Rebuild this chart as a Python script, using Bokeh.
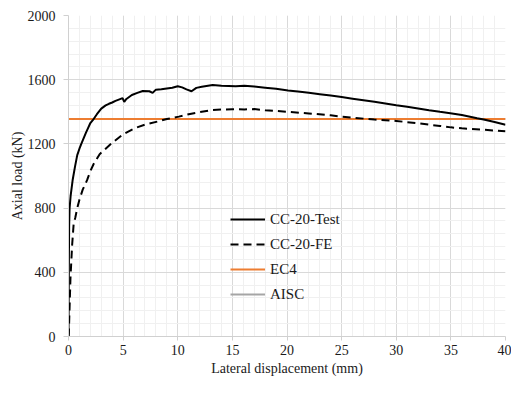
from bokeh.plotting import figure
from bokeh.models import Range1d, FixedTicker, Legend, LegendItem
from bokeh.embed import file_html
from bokeh.resources import INLINE

# ---- data ----
test_x = [0, 0.02, 0.04, 0.06, 0.1, 0.2, 0.38, 0.6, 0.8, 1.0, 1.2, 1.4, 1.6, 1.8, 2.0,
          2.3, 2.6, 3.0, 3.4, 3.7, 4.0, 4.3, 4.6, 4.95, 5.1, 5.3, 5.8, 6.3, 6.8, 7.4,
          7.7, 8.0, 8.5, 9.0, 9.5, 10.0, 10.4, 10.8, 11.26, 11.7, 12.2, 13.2, 14.0,
          15.3, 16.1, 17.0, 18.0, 19.0, 20.1, 21.0, 22.0, 23.0, 24.0, 25.0, 26.0,
          27.0, 28.0, 29.0, 30.0, 31.0, 32.0, 33.0, 34.0, 35.1, 36.0, 37.4, 38.0,
          39.0, 40.0]
test_y = [0, 300, 520, 690, 800, 880, 975, 1060, 1130, 1170, 1205, 1238, 1270, 1300, 1330,
          1355, 1385, 1420, 1440, 1450, 1458, 1468, 1476, 1485, 1462, 1480, 1505, 1518, 1530, 1528,
          1518, 1538, 1540, 1545, 1550, 1559, 1552, 1540, 1528, 1549, 1556, 1567, 1562,
          1559, 1562, 1557, 1550, 1543, 1532, 1526, 1518, 1510, 1501, 1492, 1482,
          1472, 1462, 1452, 1441, 1431, 1421, 1410, 1400, 1390, 1380, 1360, 1352,
          1337, 1319]

fe_x = [0, 0.03, 0.09, 0.18, 0.33, 0.47, 0.62, 0.8, 1.0, 1.3, 1.7, 2.0, 2.3, 2.85, 3.4,
        4.0, 5.0, 6.1, 7.0, 8.2, 9.0, 10.1, 11.0, 12.0, 13.2, 14.0, 15.0, 16.1, 17.0,
        18.0, 19.0, 20.1, 22.0, 24.0, 25.0, 26.0, 28.0, 30.0, 32.0, 34.0, 35.0, 36.0,
        38.0, 40.0]
fe_y = [0, 20, 160, 364, 567, 700, 740, 800, 852, 915, 974, 1030, 1075, 1136, 1170,
        1207, 1260, 1299, 1320, 1340, 1355, 1370, 1385, 1398, 1411, 1414, 1416, 1415, 1417,
        1410, 1405, 1400, 1390, 1378, 1370, 1363, 1352, 1343, 1328, 1312, 1303, 1297,
        1288, 1279]

line_x = [0, 40]
ec4_value = 1355
aisc_value = 1355

x_ticks = [0, 5, 10, 15, 20, 25, 30, 35, 40]
y_ticks = [0, 400, 800, 1200, 1600, 2000]

FONT = "Liberation Serif"
TXT = "#1a1a1a"

p = figure(width=511, height=378, output_backend="svg", toolbar_location=None,
           x_range=Range1d(0, 40), y_range=Range1d(0, 2000),
           min_border_left=68, min_border_right=6, min_border_top=15, min_border_bottom=40)
p.outline_line_color = None
p.background_fill_color = "white"
p.border_fill_color = "white"

p.xaxis.ticker = FixedTicker(ticks=x_ticks, minor_ticks=list(range(0, 41)))
p.yaxis.ticker = FixedTicker(ticks=y_ticks, minor_ticks=list(range(0, 2001, 80)))

for ax in (p.xaxis[0], p.yaxis[0]):
    ax.axis_line_color = "#d0d0d0"
    ax.major_tick_line_color = "#d0d0d0"
    ax.minor_tick_line_color = None
    ax.major_tick_in = 0
    ax.major_label_text_font = FONT
    ax.major_label_text_font_size = "14px"
    ax.major_label_text_color = TXT
    ax.axis_label_text_font = FONT
    ax.axis_label_text_font_size = "14px"
    ax.axis_label_text_font_style = "normal"
    ax.axis_label_text_color = TXT

p.xaxis.major_tick_out = 4
p.xaxis.major_label_standoff = 4
p.xaxis.axis_label = "Lateral displacement (mm)"
p.xaxis.axis_label_standoff = 3
p.yaxis.major_tick_out = 5
p.yaxis.major_label_standoff = 8
p.yaxis.axis_label = "Axial load (kN)"
p.yaxis.axis_label_standoff = 0

for g in (p.xgrid[0], p.ygrid[0]):
    g.grid_line_color = "#d9d9d9"
    g.grid_line_width = 1
    g.minor_grid_line_color = "#f0f0f0"
    g.minor_grid_line_width = 1

r_aisc = p.line(line_x, [aisc_value] * 2, line_color="#a5a5a5", line_width=2)
r_ec4 = p.line(line_x, [ec4_value] * 2, line_color="#ed7d31", line_width=2)
r_fe = p.line(fe_x, fe_y, line_color="black", line_width=2, line_dash="8 5")
r_test = p.line(test_x, test_y, line_color="black", line_width=2)

legend = Legend(items=[LegendItem(label="CC-20-Test", renderers=[r_test]),
                       LegendItem(label="CC-20-FE", renderers=[r_fe]),
                       LegendItem(label="EC4", renderers=[r_ec4]),
                       LegendItem(label="AISC", renderers=[r_aisc])],
                location=(162, 32), background_fill_alpha=0, border_line_color=None,
                padding=0, margin=0, spacing=5, glyph_width=35, glyph_height=20,
                label_height=20, label_standoff=5, label_text_font=FONT,
                label_text_font_size="15px", label_text_color=TXT)
p.add_layout(legend)

open("out.html", "w").write(file_html(p, INLINE))
